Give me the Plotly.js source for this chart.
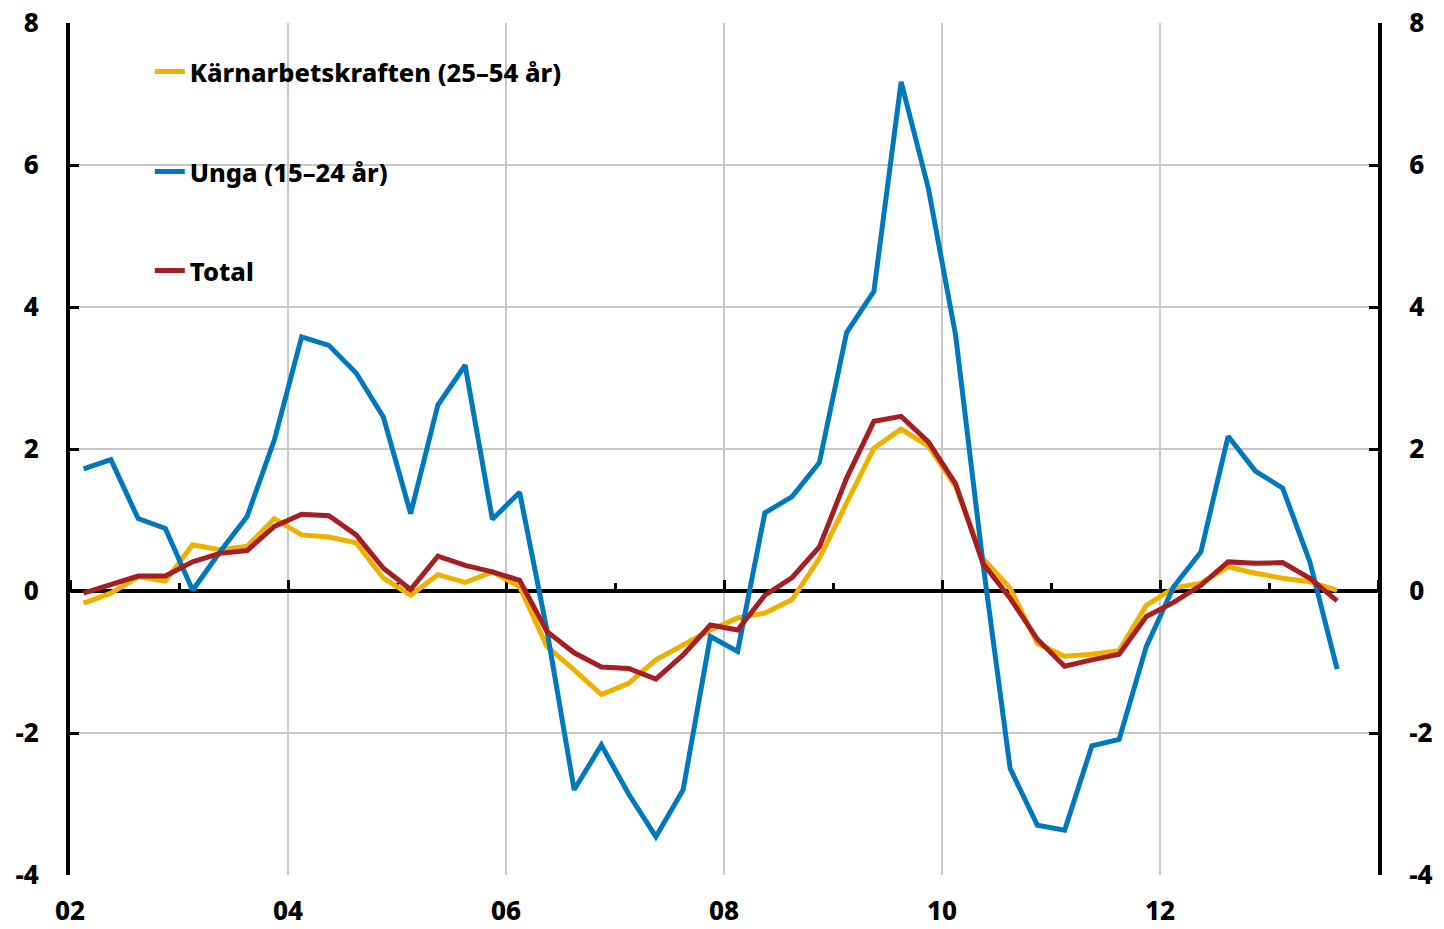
<!DOCTYPE html>
<html>
<head>
<meta charset="utf-8">
<script src="https://cdn.plot.ly/plotly-3.0.1.min.js"></script>
<style>html,body{margin:0;padding:0;background:#fff;}#chart{width:1444px;height:929px;}</style>
</head>
<body>
<div id="chart"></div>
<script>
// Quarterly observations 2002 Q1 – 2013 Q3
const quarters = [
  "2002Q1","2002Q2","2002Q3","2002Q4","2003Q1","2003Q2","2003Q3","2003Q4",
  "2004Q1","2004Q2","2004Q3","2004Q4","2005Q1","2005Q2","2005Q3","2005Q4",
  "2006Q1","2006Q2","2006Q3","2006Q4","2007Q1","2007Q2","2007Q3","2007Q4",
  "2008Q1","2008Q2","2008Q3","2008Q4","2009Q1","2009Q2","2009Q3","2009Q4",
  "2010Q1","2010Q2","2010Q3","2010Q4","2011Q1","2011Q2","2011Q3","2011Q4",
  "2012Q1","2012Q2","2012Q3","2012Q4","2013Q1","2013Q2","2013Q3"
];
const karnarbetskraften = [
  -0.17,-0.03,0.20,0.14,0.65,0.58,0.63,1.02,
  0.79,0.76,0.68,0.18,-0.06,0.23,0.12,0.27,
  0.06,-0.78,-1.11,-1.46,-1.30,-0.97,-0.76,-0.55,
  -0.38,-0.31,-0.12,0.46,1.24,2.01,2.28,2.04,
  1.47,0.46,0.04,-0.74,-0.92,-0.89,-0.84,-0.20,
  0.04,0.11,0.34,0.25,0.18,0.13,0.01
];
const unga = [
  1.72,1.85,1.02,0.88,0.01,0.55,1.05,2.13,
  3.58,3.46,3.07,2.45,1.09,2.62,3.18,1.01,
  1.39,-0.55,-2.80,-2.17,-2.86,-3.46,-2.80,-0.64,
  -0.85,1.10,1.33,1.81,3.64,4.22,7.17,5.67,
  3.60,0.40,-2.50,-3.30,-3.37,-2.18,-2.09,-0.78,
  0.06,0.55,2.18,1.69,1.45,0.41,-1.10
];
const total = [
  -0.03,0.09,0.21,0.21,0.41,0.53,0.57,0.91,
  1.08,1.06,0.79,0.32,0.02,0.49,0.36,0.27,
  0.15,-0.57,-0.87,-1.07,-1.09,-1.24,-0.90,-0.48,
  -0.55,-0.06,0.19,0.62,1.59,2.39,2.46,2.10,
  1.51,0.39,-0.10,-0.68,-1.06,-0.97,-0.89,-0.36,
  -0.16,0.08,0.41,0.39,0.40,0.18,-0.14
];
const seriesNames = ["Kärnarbetskraften (25–54 år)", "Unga (15–24 år)", "Total"];
const tickYears = [2002, 2004, 2006, 2008, 2010, 2012];
const tickLabels = ["02", "04", "06", "08", "10", "12"];
const yTicks = [-4, -2, 0, 2, 4, 6, 8];
const yTickLabels = ["-4", "-2", "0", "2", "4", "6", "8"];

// mid-quarter position on a numeric year axis
const xq = quarters.map(q => {
  const y = parseInt(q.slice(0, 4), 10), k = parseInt(q.slice(5), 10);
  return y + (k - 0.5) / 4;
});

const FONT = "'Noto Sans', 'Open Sans', sans-serif";
const colors = ["#F0B000", "#0078BE", "#A51E22"];
const LW = 5;
const data = [
  {x: xq, y: karnarbetskraften, name: seriesNames[0], legend: "legend",
   type: "scatter", mode: "lines", line: {color: colors[0], width: LW}},
  {x: xq, y: unga, name: seriesNames[1], legend: "legend2",
   type: "scatter", mode: "lines", line: {color: colors[1], width: LW}},
  {x: xq, y: total, name: seriesNames[2], legend: "legend3",
   type: "scatter", mode: "lines", line: {color: colors[2], width: LW}},
  // invisible helpers so the zero-line axis and right axis are drawn
  {x: xq, y: total, xaxis: "x2", yaxis: "y", showlegend: false, hoverinfo: "skip",
   type: "scatter", mode: "lines", line: {width: 0}, opacity: 0},
  {x: xq, y: total, xaxis: "x", yaxis: "y2", showlegend: false, hoverinfo: "skip",
   type: "scatter", mode: "lines", line: {width: 0}, opacity: 0}
];

const legendBase = {
  bgcolor: "rgba(0,0,0,0)", borderwidth: 0,
  font: {family: FONT, size: 25.5, color: "#000", weight: 800},
  xanchor: "left", yanchor: "middle", itemwidth: 30
};
const LX = 0.061;

const tickFont = {family: FONT, size: 26, color: "#000", weight: 800};

const layout = {
  width: 1444, height: 929,
  margin: {l: 70, r: 66, t: 23, b: 54, pad: 0},
  paper_bgcolor: "#fff", plot_bgcolor: "#fff",
  font: {family: FONT, color: "#000"},
  xaxis: {
    range: [2002, 2014], tickmode: "array", tickvals: tickYears, ticktext: tickLabels,
    showgrid: true, gridcolor: "#c8c8c8", gridwidth: 1.5,
    zeroline: false, showline: false, ticks: "",
    tickfont: tickFont,
    ticklabelstandoff: 18
  },
  xaxis2: {
    overlaying: "x", anchor: "free", position: 1/3, side: "top",
    range: [2002, 2014], matches: "x",
    showgrid: false, zeroline: false, showticklabels: false,
    showline: true, linecolor: "#000", linewidth: 4, layer: "below traces",
    ticks: "outside", tickmode: "linear", tick0: 2002, dtick: 2,
    ticklen: 9, tickwidth: 3, tickcolor: "#000",
    minor: {ticks: "outside", tick0: 2003, dtick: 1, ticklen: 6, tickwidth: 3, tickcolor: "#000"}
  },
  yaxis: {
    range: [-4, 8], tickmode: "array", tickvals: yTicks, ticktext: yTickLabels,
    showgrid: true, gridcolor: "#c8c8c8", gridwidth: 1.5, zeroline: false,
    showline: true, linecolor: "#000", linewidth: 4, mirror: false,
    ticks: "inside", ticklen: 9, tickwidth: 3, tickcolor: "#000",
    tickfont: tickFont,
    ticklabelstandoff: 22
  },
  yaxis2: {
    overlaying: "y", side: "right", anchor: "x", matches: "y",
    range: [-4, 8], tickmode: "array", tickvals: yTicks, ticktext: yTickLabels,
    showgrid: false, zeroline: false,
    showline: true, linecolor: "#000", linewidth: 4,
    ticks: "inside", ticklen: 9, tickwidth: 3, tickcolor: "#000",
    tickfont: tickFont,
    ticklabelstandoff: 22
  },
  showlegend: true,
  legend: Object.assign({}, legendBase, {x: LX, y: (875 - 72) / 852}),
  legend2: Object.assign({}, legendBase, {x: LX, y: (875 - 172) / 852}),
  legend3: Object.assign({}, legendBase, {x: LX, y: (875 - 271) / 852})
};

Plotly.newPlot("chart", data, layout, {displayModeBar: false, staticPlot: true});
</script>
</body>
</html>
